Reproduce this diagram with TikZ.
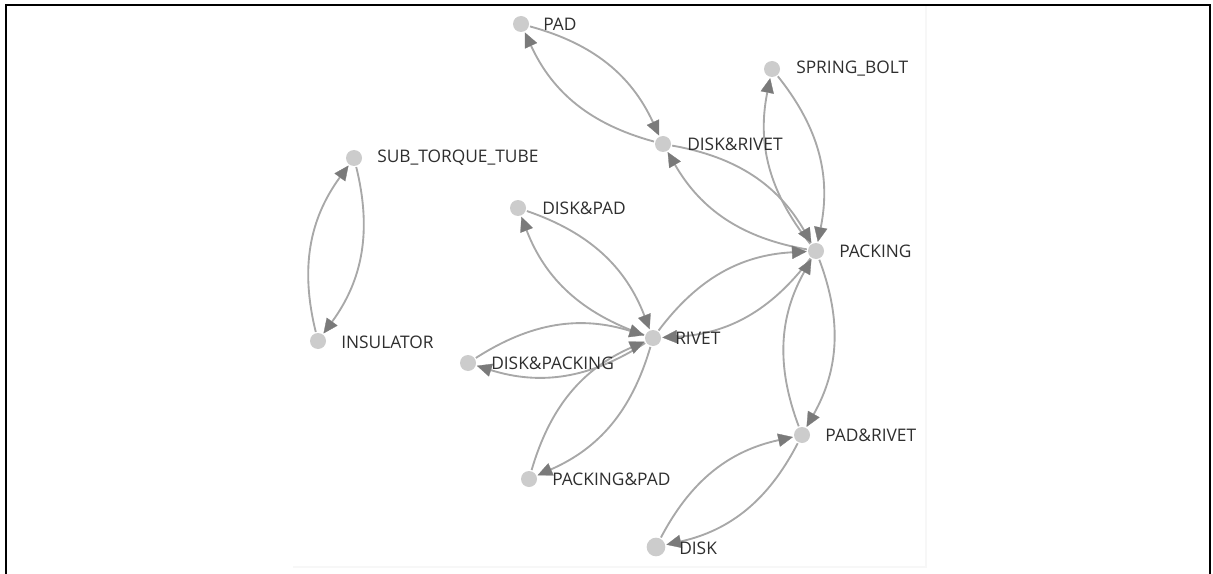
\documentclass[tikz,border=0pt]{standalone}
\usepackage{fontspec}
\setmainfont{Open Sans}
\usetikzlibrary{arrows.meta}
\definecolor{nodegray}{HTML}{CCCCCC}
\definecolor{edgegray}{HTML}{A8A8A8}
\definecolor{tipgray}{HTML}{7A7A7A}
\definecolor{labelgray}{HTML}{2E2E2E}
\tikzset{
  vertex/.style={circle, fill=nodegray, draw=none, minimum size=12pt, inner sep=0pt, outer sep=1pt},
  bigvertex/.style={vertex, minimum size=14pt},
  vlabel/.style={anchor=west, inner sep=0pt, text=labelgray, font=\fontsize{13pt}{15pt}\selectfont},
  link/.style={draw=edgegray, line width=1.4pt, bend left=25,
    -{Triangle[length=11pt, width=10pt, color=tipgray, fill=tipgray, line width=0.2pt]}},
  frameline/.style={line width=1.6pt, black},
  shadeline/.style={line width=0.8pt, gray!6}
}
\begin{document}
\begin{tikzpicture}[x=0.75pt, y=-0.75pt]
\useasboundingbox (0,0) rectangle (1213,574);

% panel edges
\draw[shadeline] (293,567) -- (926,567) -- (926,6);
\draw[frameline] (6,574) -- (6,5) -- (1210,5) -- (1210,574);

% vertices
\node[vertex] (pad)  at (521,24)  {};
\node[vertex] (sb)   at (772,69)  {};
\node[vertex] (dr)   at (663,144) {};
\node[vertex] (stt)  at (354,158) {};
\node[vertex] (dp)   at (518,208) {};
\node[vertex] (pk)   at (816,251) {};
\node[vertex] (rv)   at (653,338) {};
\node[vertex] (ins)  at (318,341) {};
\node[vertex] (dpk)  at (468,363) {};
\node[vertex] (pr)   at (802,435) {};
\node[vertex] (pp)   at (529,479) {};
\node[bigvertex] (dk) at (656,547) {};

% directed links
\draw[link] (pad) to (dr);
\draw[link] (dr) to (pad);
\draw[link] (sb) to (pk);
\draw[link] (pk) to (sb);
\draw[link] (dr) to (pk);
\draw[link] (pk) to (dr);
\draw[link] (stt) to (ins);
\draw[link] (ins) to (stt);
\draw[link] (dp) to (rv);
\draw[link] (rv) to (dp);
\draw[link] (rv) to (pk);
\draw[link] (pk) to (rv);
\draw[link] (dpk) to (rv);
\draw[link] (rv) to (dpk);
\draw[link] (pp) to (rv);
\draw[link] (rv) to (pp);
\draw[link] (pk) to (pr);
\draw[link] (pr) to (pk);
\draw[link] (dk) to (pr);
\draw[link] (pr) to (dk);

% labels
\node[vlabel] (padl) at (543,24)  {PAD};
\node[vlabel] (sbl)  at (796,69)  {SPRING\_BOLT};
\node[vlabel] (drl)  at (687,144) {DISK\&RIVET};
\node[vlabel] (sttl) at (377,158) {SUB\_TORQUE\_TUBE};
\node[vlabel] (dpl)  at (542,208) {DISK\&PAD};
\node[vlabel] (pkl)  at (839,251) {PACKING};
\node[vlabel] (rvl)  at (675,338) {RIVET};
\node[vlabel] (insl) at (341,342) {INSULATOR};
\node[vlabel] (dpkl) at (491,363) {DISK\&PACKING};
\node[vlabel] (prl)  at (825,435) {PAD\&RIVET};
\node[vlabel] (ppl)  at (552,479) {PACKING\&PAD};
\node[vlabel] (dkl)  at (679,548) {DISK};
\end{tikzpicture}
\end{document}
